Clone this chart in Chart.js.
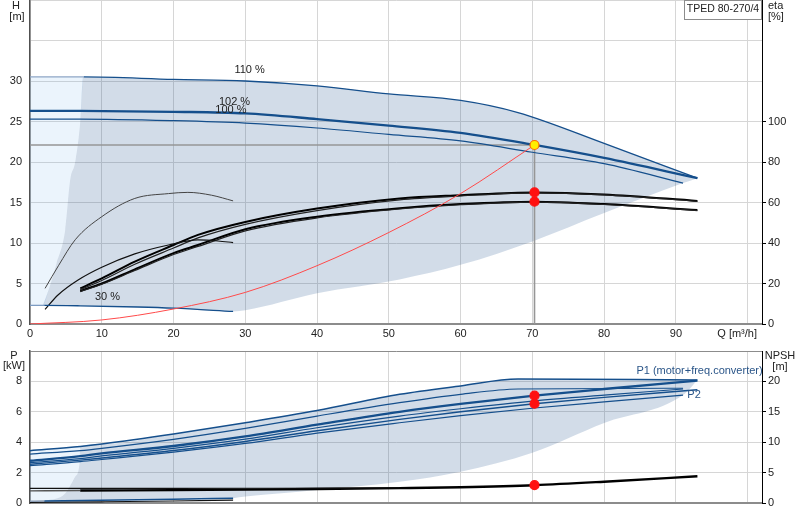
<!DOCTYPE html>
<html>
<head>
<meta charset="utf-8">
<script src="https://cdn.jsdelivr.net/npm/chart.js@4/dist/chart.umd.min.js"></script>
<style>
  body { margin: 0; background: #fff; }
  canvas { display: block; }
</style>
</head>
<body>
<canvas id="headChart" width="800" height="340"></canvas>
<canvas id="powerChart" width="800" height="180"></canvas>
<script>
// tick labels
const qLabels = [0, 10, 20, 30, 40, 50, 60, 70, 80, 90];
const hLabels = [0, 5, 10, 15, 20, 25, 30];
const etaLabels = [0, 20, 40, 60, 80, 100];
const pLabels = [0, 2, 4, 6, 8];
const npshLabels = [0, 5, 10, 15, 20];

// head curves, Q [m3/h] / H [m]
const q110 = [0, 7.5, 20, 30, 40, 50, 60, 68, 80, 93];
const h110 = [30.5, 30.5, 30.2, 30.0, 29.4, 28.4, 27.6, 26.1, 22.3, 18.0];
const q102 = [0, 7, 20, 30, 40, 50, 60, 70.3, 80, 93];
const h102 = [26.3, 26.3, 26.2, 26.0, 25.3, 24.5, 23.6, 22.1, 20.5, 18.0];
const q100 = [0, 7, 20, 30, 40, 50, 60, 70, 80, 91];
const h100 = [25.3, 25.3, 25.1, 24.8, 24.2, 23.4, 22.6, 21.2, 19.8, 17.4];
const q30 = [0, 2, 7, 15, 20, 28.3];
const h30 = [2.3, 2.3, 2.25, 2.1, 1.95, 1.55];

// edges of the operating range
const edgeQ = [1.8, 2.7, 3.7, 4.9, 5.6, 6.3, 7.0, 7.4];
const edgeH = [2.3, 4.5, 7.5, 11.6, 17.8, 20, 25, 30.5];
const lowQ = [30, 40, 51.5, 60, 70, 80, 91, 93];
const lowH = [1.7, 3.8, 5.5, 7.3, 10.2, 13.7, 17.4, 18.0];

// system curve
const qSys = [0, 10, 20, 30, 40, 50, 60, 70.3];
const hSys = [0, 0.5, 1.85, 3.9, 7.2, 11.3, 16.1, 22.1];

// efficiency [%]
const qEta = [7, 10, 14.6, 20, 23.4, 30, 40, 51.5, 60, 70.3, 80, 93];
const etaHiA = [17.6, 22.5, 30.8, 39, 44, 50.4, 57, 62, 63.6, 65, 64, 60.8];
const etaHiB = [17.0, 21.5, 29.5, 37.5, 42.5, 49.2, 56, 61.3, 63.2, 64.8, 63.8, 60.6];
const etaLoA = [16.3, 20, 27, 35, 39, 46.8, 53, 57.2, 59.2, 60.4, 59.2, 56.3];
const etaLoB = [16.0, 19.6, 26.4, 34.3, 38.3, 46.0, 52.4, 56.8, 58.9, 60.2, 59.0, 56.0];
const qEtaLowA = [2.1, 4, 6.3, 10, 14.6, 19.3, 22, 25.3, 28.3];
const etaLowA = [17.6, 29, 41.6, 53, 62, 64.4, 65, 63.6, 60.8];
const qEtaLowB = [2.1, 3.9, 6.7, 10, 14.6, 19.3, 23.4, 26.2, 28.3];
const etaLowB = [7.2, 14.3, 21.7, 28, 34.6, 39, 41.5, 41, 40.2];

// duty point
const dutyQ = 70.3;
const dutyH = 22.1;
const dutyEta = [65, 60.4];
const dutyP = [7.06, 6.53];
const dutyNpsh = 2.93;

// power curves [kW]
const qP110 = [0, 7, 10, 20, 30, 40, 51.5, 60, 68, 93];
const p1_110 = [3.44, 3.72, 3.88, 4.54, 5.28, 6.08, 7.15, 7.7, 8.15, 8.1];
const qP2_110 = [0, 7, 10, 20, 30, 40, 51.5, 60, 68, 91];
const p2_110 = [3.22, 3.45, 3.6, 4.19, 4.91, 5.72, 6.6, 7.15, 7.5, 7.55];
const qP102 = [0, 7, 10, 20, 30, 40, 51.5, 60, 70.3, 80, 93];
const p1_102 = [2.78, 3.08, 3.26, 3.75, 4.38, 5.15, 6.0, 6.52, 7.06, 7.5, 8.05];
const p2_102 = [2.55, 2.82, 2.96, 3.45, 4.05, 4.75, 5.5, 6.0, 6.53, 6.95, 7.45];
const qP100 = [0, 7, 10, 20, 30, 40, 51.5, 60, 70.3, 80, 91];
const p1_100 = [2.65, 2.92, 3.1, 3.6, 4.2, 4.95, 5.72, 6.2, 6.72, 7.1, 7.5];
const p2_100 = [2.46, 2.72, 2.86, 3.35, 3.92, 4.6, 5.28, 5.75, 6.25, 6.65, 7.1];
const qP30 = [0, 2, 10, 20, 28.3];
const p1_30 = [0.12, 0.13, 0.18, 0.25, 0.32];
const qP2_30 = [0, 10, 20, 28.3];
const p2_30 = [0.04, 0.08, 0.13, 0.19];
const pEdgeQ = [2.1, 4.9, 6.3, 6.9, 7.0];
const pEdge = [0.13, 0.63, 1.73, 2.6, 3.72];
const pLowQ = [30, 40, 51.5, 60, 70, 80, 91, 93];
const pLow = [0.42, 0.86, 1.4, 2.06, 3.3, 5.26, 7.1, 8.1];

// NPSH [m]
const qNpsh = [0, 7, 20, 30, 40, 51.5, 60, 70.3, 80, 93];
const npshA = [2.0, 2.05, 2.12, 2.2, 2.3, 2.45, 2.6, 2.93, 3.5, 4.4];
const qNpshB = [0, 10, 20, 34, 51.5];
const npshB = [2.4, 2.4, 2.4, 2.42, 2.5];

const BLUE = '#154f8c';
const LIGHT = 'rgba(100,170,230,0.13)';
const SHADE = 'rgba(30,80,140,0.2)';
const FONT = { family: '"Liberation Sans", Arial, sans-serif', size: 11 };
const GRID = '#d6d6d6';

const pts = (xs, ys) => xs.map((x, i) => ({ x, y: ys[i] }));

function curve(xs, ys, color, width, extra) {
  return Object.assign({
    data: pts(xs, ys),
    borderColor: color,
    borderWidth: width,
    pointRadius: 0,
    fill: false,
    cubicInterpolationMode: 'monotone',
    order: 3
  }, extra || {});
}

function area(xs, ys, target, color) {
  return {
    data: pts(xs, ys),
    borderWidth: 0,
    pointRadius: 0,
    backgroundColor: color,
    fill: target === null ? false : { target: target },
    cubicInterpolationMode: 'monotone',
    order: 20
  };
}

function dot(x, y, axis, fillColor, lineColor) {
  return {
    data: [{ x, y }],
    yAxisID: axis,
    showLine: false,
    pointRadius: 4.5,
    pointBackgroundColor: fillColor,
    pointBorderColor: lineColor,
    pointBorderWidth: 1.2,
    order: 0
  };
}

function tickCb(list) {
  return v => (list.includes(v) ? String(v) : '');
}

function fixWidth(w) {
  return s => { s.width = w; s.paddingTop = 0; s.paddingBottom = 0; };
}
function fixHeight(h) {
  return s => { s.height = h; s.paddingLeft = 0; s.paddingRight = 0; };
}

// ---------- head / efficiency chart ----------
const upperQ = edgeQ.concat(q110.filter(q => q > 7.5));
const upperH = edgeH.concat(h110.filter((h, i) => q110[i] > 7.5));
const lowerQ = [1.8].concat(q30.filter(q => q > 2), lowQ);
const lowerH = [2.3].concat(h30.filter((h, i) => q30[i] > 2), lowH);

const headLabels = {
  id: 'headLabels',
  afterDraw(chart) {
    const { ctx, scales } = chart;
    const x = scales.x, y = scales.y;
    ctx.save();
    ctx.font = '11px "Liberation Sans", Arial, sans-serif';
    ctx.textBaseline = 'middle';
    ctx.fillStyle = '#222';
    ctx.textAlign = 'center';
    ctx.fillText('H', 16, 6);
    ctx.fillText('[m]', 17, 17);
    ctx.fillText('110 %', x.getPixelForValue(30.6), y.getPixelForValue(31.4));
    ctx.fillText('102 %', x.getPixelForValue(28.5), y.getPixelForValue(27.4));
    ctx.fillText('100 %', x.getPixelForValue(28), y.getPixelForValue(26.4));
    ctx.fillText('30 %', x.getPixelForValue(10.8), y.getPixelForValue(3.3));
    ctx.textAlign = 'left';
    ctx.fillText('eta', 768, 6);
    ctx.fillText('[%]', 768, 17);
    ctx.textAlign = 'right';
    ctx.fillText('Q [m\u00b3/h]', 757, 334);
    // type box
    ctx.fillStyle = '#fff';
    ctx.fillRect(684.5, 0.5, 77, 19);
    ctx.strokeStyle = '#8c8c8c';
    ctx.lineWidth = 1;
    ctx.strokeRect(684.5, 0.5, 77, 19);
    ctx.fillStyle = '#222';
    ctx.textAlign = 'center';
    ctx.font = '10.5px "Liberation Sans", Arial, sans-serif';
    ctx.fillText('TPED 80-270/4', 723, 9.5);
    ctx.restore();
  }
};

new Chart(document.getElementById('headChart'), {
  type: 'line',
  data: {
    datasets: [
      area([0, 7.4], [30.5, 30.5], 1, LIGHT),
      area([0].concat(edgeQ), [2.3].concat(edgeH), null, LIGHT),
      area(upperQ, upperH, 3, SHADE),
      area(lowerQ, lowerH, null, SHADE),
      curve([0, dutyQ], [dutyH, dutyH], '#969696', 1.6, { order: 6, cubicInterpolationMode: 'default' }),
      curve([dutyQ, dutyQ], [0, dutyH], '#969696', 1.6, { order: 6, cubicInterpolationMode: 'default' }),
      curve(q110, h110, BLUE, 1.3, {
        segment: { borderColor: c => (c.p1.parsed.x <= 7.5 ? '#8ea6c6' : BLUE) }
      }),
      curve(q102, h102, BLUE, 2.3),
      curve(q100, h100, BLUE, 1.2),
      curve(q30, h30, BLUE, 1.3, {
        segment: { borderColor: c => (c.p1.parsed.x <= 2 ? '#7d9cc2' : BLUE) }
      }),
      curve(qSys, hSys, '#ff4a4a', 1, { order: 2 }),
      curve(qEtaLowA, etaLowA, '#444', 1, { yAxisID: 'eta' }),
      curve(qEtaLowB, etaLowB, '#111', 1.2, { yAxisID: 'eta' }),
      curve(qEta, etaHiB, '#222', 1.2, { yAxisID: 'eta' }),
      curve(qEta, etaHiA, '#000', 2, { yAxisID: 'eta' }),
      curve(qEta, etaLoB, '#222', 1.2, { yAxisID: 'eta' }),
      curve(qEta, etaLoA, '#000', 2, { yAxisID: 'eta' }),
      dot(dutyQ, dutyEta[0], 'eta', '#ff1010', '#ff1010'),
      dot(dutyQ, dutyEta[1], 'eta', '#ff1010', '#ff1010'),
      dot(dutyQ, dutyH, 'y', '#ffee00', '#ff6a00')
    ]
  },
  options: {
    responsive: false,
    animation: false,
    layout: { padding: 0, autoPadding: false },
    plugins: { legend: { display: false }, tooltip: { enabled: false } },
    scales: {
      x: {
        type: 'linear', min: 0, max: 102,
        ticks: { stepSize: 10, includeBounds: false, callback: tickCb(qLabels), font: FONT, color: '#222', padding: 3, maxRotation: 0 },
        grid: { color: GRID, drawTicks: false },
        border: { color: '#8c8c8c', width: 2 },
        afterFit: fixHeight(16)
      },
      y: {
        position: 'left', min: 0, max: 40,
        ticks: { stepSize: 5, callback: tickCb(hLabels), font: FONT, color: '#222', padding: 8 },
        grid: { color: GRID, drawTicks: false },
        border: { color: '#505050', width: 1.5 },
        afterFit: fixWidth(30)
      },
      eta: {
        position: 'right', min: 0, max: 160,
        ticks: { stepSize: 20, callback: tickCb(etaLabels), font: FONT, color: '#222', padding: 2 },
        grid: {
          drawOnChartArea: false, drawTicks: true, tickLength: 4,
          color: c => (etaLabels.includes(c.tick.value) ? '#000' : 'rgba(0,0,0,0)')
        },
        border: { color: '#000', width: 1 },
        afterFit: fixWidth(38)
      }
    }
  },
  plugins: [headLabels]
});

// ---------- power / NPSH chart ----------
const pUpperQ = pEdgeQ.concat(qP110.filter(q => q > 7));
const pUpper = pEdge.concat(p1_110.filter((p, i) => qP110[i] > 7));
const pLowerQ = [2.1].concat(qP30.filter(q => q > 2), pLowQ);
const pLower = [0.13].concat(p1_30.filter((p, i) => qP30[i] > 2), pLow);

const powerLabels = {
  id: 'powerLabels',
  afterDraw(chart) {
    const { ctx, scales } = chart;
    const x = scales.x, y = scales.y;
    ctx.save();
    ctx.font = '11px "Liberation Sans", Arial, sans-serif';
    ctx.textBaseline = 'middle';
    ctx.fillStyle = '#222';
    ctx.textAlign = 'center';
    ctx.fillText('P', 14, 16);
    ctx.fillText('[kW]', 14, 26);
    ctx.fillText('NPSH', 780, 16);
    ctx.fillText('[m]', 780, 27);
    ctx.textAlign = 'left';
    ctx.fillStyle = '#2a5588';
    ctx.fillText('P1 (motor+freq.converter)', x.getPixelForValue(84.5), y.getPixelForValue(8.68));
    ctx.fillText('P2', x.getPixelForValue(91.6), y.getPixelForValue(7.1));
    ctx.restore();
  }
};

new Chart(document.getElementById('powerChart'), {
  type: 'line',
  data: {
    datasets: [
      area([0, 7.0], [3.44, 3.72], 1, LIGHT),
      area([0].concat(pEdgeQ), [0.05].concat(pEdge), null, LIGHT),
      area(pUpperQ, pUpper, 3, SHADE),
      area(pLowerQ, pLower, null, SHADE),
      curve(qP110, p1_110, BLUE, 1.5),
      curve(qP2_110, p2_110, BLUE, 1.2),
      curve(qP102, p1_102, BLUE, 2.3),
      curve(qP100, p1_100, BLUE, 1.2),
      curve(qP102, p2_102, BLUE, 1.4),
      curve(qP100, p2_100, BLUE, 1.2),
      curve(qP30, p1_30, BLUE, 1.5, {
        segment: { borderColor: c => (c.p1.parsed.x <= 2 ? '#8a9cb4' : BLUE) }
      }),
      curve(qP2_30, p2_30, '#111', 1.2),
      curve(qNpshB, npshB, '#111', 1.1, { yAxisID: 'npsh' }),
      curve(qNpsh, npshA, '#000', 2.4, {
        yAxisID: 'npsh',
        segment: {
          borderColor: c => (c.p1.parsed.x <= 7 ? '#555' : '#000'),
          borderWidth: c => (c.p1.parsed.x <= 7 ? 1.4 : 2.4)
        }
      }),
      dot(dutyQ, dutyP[0], 'y', '#ff1010', '#ff1010'),
      dot(dutyQ, dutyP[1], 'y', '#ff1010', '#ff1010'),
      dot(dutyQ, dutyNpsh, 'npsh', '#ff1010', '#ff1010')
    ]
  },
  options: {
    responsive: false,
    animation: false,
    layout: { padding: { top: 11, left: 0, right: 0, bottom: 0 }, autoPadding: false },
    plugins: { legend: { display: false }, tooltip: { enabled: false } },
    scales: {
      x: {
        type: 'linear', min: 0, max: 102,
        ticks: { stepSize: 10, includeBounds: false, display: false },
        grid: { color: GRID, drawTicks: false },
        border: { color: '#8c8c8c', width: 2 },
        afterFit: fixHeight(17)
      },
      y: {
        position: 'left', min: 0, max: 10,
        ticks: { stepSize: 2, callback: tickCb(pLabels), font: FONT, color: '#222', padding: 8 },
        grid: { color: c => (c.tick.value === 10 ? '#8c8c8c' : GRID), drawTicks: false },
        border: { color: '#505050', width: 1.5 },
        afterFit: fixWidth(30)
      },
      npsh: {
        position: 'right', min: 0, max: 25,
        ticks: { stepSize: 5, callback: tickCb(npshLabels), font: FONT, color: '#222', padding: 2 },
        grid: {
          drawOnChartArea: false, drawTicks: true, tickLength: 4,
          color: c => (npshLabels.includes(c.tick.value) ? '#000' : 'rgba(0,0,0,0)')
        },
        border: { color: '#000', width: 1 },
        afterFit: fixWidth(38)
      }
    }
  },
  plugins: [powerLabels]
});
</script>
</body>
</html>
